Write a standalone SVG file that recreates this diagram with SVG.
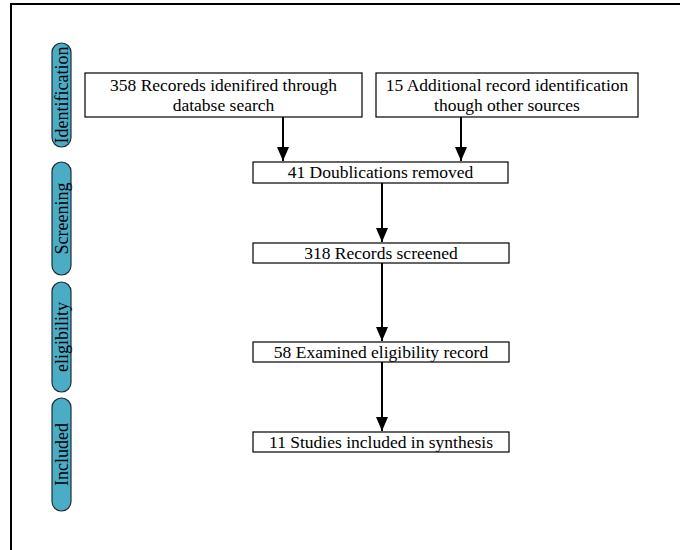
<svg xmlns="http://www.w3.org/2000/svg" width="680" height="550" viewBox="0 0 680 550">
<style>
.box{fill:#fff;stroke:#000;stroke-width:1.2}
.pill{fill:#4bacc6;stroke:#1f2d33;stroke-width:1.2}
.t{font-family:"Liberation Serif","Times New Roman",serif;font-size:17.5px;fill:#000;text-anchor:middle}
.p{font-family:"Liberation Serif","Times New Roman",serif;font-size:18px;fill:#000;text-anchor:middle}
.ln{stroke:#000;stroke-width:2;fill:none}
</style>
<defs>
<marker id="ah" markerWidth="14" markerHeight="12" refX="14" refY="6" orient="auto" markerUnits="userSpaceOnUse" viewBox="0 0 14 12">
<path d="M0,0 L14,6 L0,12 Z" fill="#000"/>
</marker>
</defs>
<rect x="0" y="0" width="680" height="550" fill="#fff"/>
<path d="M11,550 L11,4 L680,4" fill="none" stroke="#000" stroke-width="2"/>
<g id="stage-identification">
<rect class="pill" x="52" y="43" width="19" height="104" rx="9.5"/>
<text class="p" transform="translate(67.5,95) rotate(-90)">Identification</text>
</g>
<g id="stage-screening">
<rect class="pill" x="52" y="162" width="19" height="113" rx="9.5"/>
<text class="p" transform="translate(67.5,218.5) rotate(-90)">Screening</text>
</g>
<g id="stage-eligibility">
<rect class="pill" x="52" y="282" width="19" height="110" rx="9.5"/>
<text class="p" transform="translate(67.5,337) rotate(-90)">eligibility</text>
</g>
<g id="stage-included">
<rect class="pill" x="52" y="398" width="19" height="113" rx="9.5"/>
<text class="p" transform="translate(67.5,454.5) rotate(-90)">Included</text>
</g>
<g id="n-database">
<rect class="box" x="85" y="73" width="277" height="44"/>
<text class="t" x="223.5" y="91">358 Recoreds idenifired through</text>
<text class="t" x="223.5" y="111">databse search</text>
</g>
<g id="n-other">
<rect class="box" x="376" y="73" width="262" height="44"/>
<text class="t" x="507" y="91">15 Additional record identification</text>
<text class="t" x="507" y="111">though other sources</text>
</g>
<g id="n-dup">
<rect class="box" x="253" y="162" width="255" height="21"/>
<text class="t" x="380.5" y="178">41 Doublications removed</text>
</g>
<g id="n-screened">
<rect class="box" x="253" y="243" width="256" height="20"/>
<text class="t" x="381" y="258.5">318 Records screened</text>
</g>
<g id="n-eligible">
<rect class="box" x="253" y="342" width="256" height="20"/>
<text class="t" x="381" y="357.5">58 Examined eligibility record</text>
</g>
<g id="n-included">
<rect class="box" x="253" y="432" width="256" height="20"/>
<text class="t" x="381" y="447.5">11 Studies included in synthesis</text>
</g>
<g id="connectors">
<line class="ln" x1="283" y1="117" x2="283" y2="161" marker-end="url(#ah)"/>
<line class="ln" x1="461" y1="117" x2="461" y2="161" marker-end="url(#ah)"/>
<line class="ln" x1="382" y1="183" x2="382" y2="242" marker-end="url(#ah)"/>
<line class="ln" x1="382" y1="263" x2="382" y2="341" marker-end="url(#ah)"/>
<line class="ln" x1="382" y1="362" x2="382" y2="431" marker-end="url(#ah)"/>
</g>
</svg>
